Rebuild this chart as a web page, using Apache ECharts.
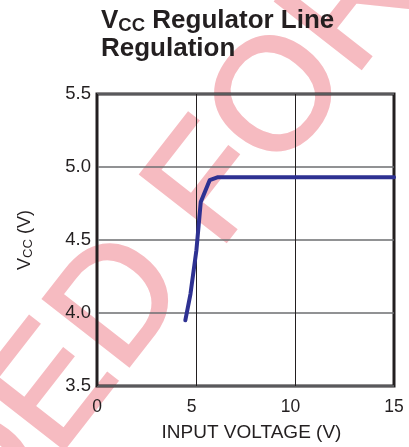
<!DOCTYPE html>
<html>
<head>
<meta charset="utf-8">
<script src="https://cdn.jsdelivr.net/npm/echarts@6/dist/echarts.min.js"></script>
<style>
  html, body { margin: 0; padding: 0; background: #ffffff; }
  #chart { width: 409px; height: 447px; }
</style>
</head>
<body>
<div id="chart"></div>
<script>
// ---- data ----
var inputVoltage = [4.46, 4.72, 5.02, 5.24, 5.69, 6.11, 15];
var vccValues    = [3.95, 4.13, 4.43, 4.76, 4.91, 4.93, 4.93];
var xTickLabels  = ['0', '5', '10', '15'];
var yTickLabels  = ['3.5', '4.0', '4.5', '5.0', '5.5'];
var titleLine1   = ['V', 'CC', ' Regulator Line'];
var titleLine2   = 'Regulation';
var xAxisName    = 'INPUT VOLTAGE (V)';
var yAxisName    = ['V', 'CC', ' (V)'];
var watermark    = ['NOT RECOMMENDED', 'FOR NEW DESIGNS'];

var FONT = 'Liberation Sans, Arial, Helvetica, sans-serif';
var INK = '#231F20';

// watermark geometry (decoration)
var th = 52 * Math.PI / 180;
var em = 158;
var b = [Math.cos(th), -Math.sin(th)];
var u = [-Math.sin(th), -Math.cos(th)];
var O1 = [128, 381];
var endD = [O1[0] + 0.722 * em * b[0], O1[1] + 0.722 * em * b[1]];
var P1 = [endD[0] + 0.33 * em * u[0], endD[1] + 0.33 * em * u[1]];
var P2 = [P1[0] + 0.278 * em * b[0], P1[1] + 0.278 * em * b[1]];

function wmText(txt, p, align) {
  return {
    type: 'text', x: p[0], y: p[1], rotation: th, z: -10, silent: true,
    style: {
      text: txt, fontSize: em, fontFamily: FONT, fontWeight: 'normal',
      fill: '#F6BBC1', stroke: '#F6BBC1', lineWidth: 3,
      align: align, textAlign: align,
      verticalAlign: 'middle', textVerticalAlign: 'middle'
    }
  };
}

var chart = echarts.init(document.getElementById('chart'), null, { renderer: 'canvas' });
var option = {
  animation: false,
  backgroundColor: '#ffffff',
  graphic: {
    elements: [ wmText(watermark[0], P1, 'right'), wmText(watermark[1], P2, 'left') ]
  },
  title: {
    left: 101, top: 7, padding: 0,
    text: '{v|' + titleLine1[0] + '}{s|' + titleLine1[1] + '}{v|' + titleLine1[2] + '}\n{v|' + titleLine2 + '}',
    textStyle: {
      rich: {
        v: { fontSize: 26, fontWeight: 'bold', fontFamily: FONT, color: INK, lineHeight: 28 },
        s: { fontSize: 18.5, fontWeight: 'bold', fontFamily: FONT, color: INK, lineHeight: 16, verticalAlign: 'bottom' }
      }
    }
  },
  grid: {
    left: 97, right: 15, top: 94, bottom: 56,
    show: true, borderColor: INK, borderWidth: 3, backgroundColor: 'transparent'
  },
  xAxis: {
    type: 'value', min: 0, max: 15, interval: 5,
    axisLine: { show: false }, axisTick: { show: false },
    splitLine: { show: true, lineStyle: { color: INK, width: 1 } },
    axisLabel: {
      margin: 12, fontSize: 17.5, fontFamily: FONT, color: INK,
      formatter: function (v) {
        var i = Math.round(v / 5);
        var t = xTickLabels[i];
        if (i === 1 || i === 2) return '{a|' + t + '}';
        return t;
      },
      rich: { a: { fontSize: 17.5, fontFamily: FONT, color: INK, padding: [0, 9, 0, 0] } }
    },
    name: xAxisName, nameLocation: 'middle', nameGap: 37,
    nameTextStyle: { fontSize: 19, fontFamily: FONT, color: INK, padding: [0, 0, 0, 12] }
  },
  yAxis: {
    type: 'value', min: 3.5, max: 5.5, interval: 0.5,
    axisLine: { show: false }, axisTick: { show: false },
    splitLine: { show: true, lineStyle: { color: '#6D6E71', width: 1.7 } },
    axisLabel: {
      margin: 6, fontSize: 18.5, fontFamily: FONT, color: INK,
      formatter: function (v) { return yTickLabels[Math.round((v - 3.5) / 0.5)]; }
    },
    name: '{v|' + yAxisName[0] + '}{s|' + yAxisName[1] + '}{v|' + yAxisName[2] + '}',
    nameLocation: 'middle', nameRotate: 90, nameGap: 62,
    nameTextStyle: {
      rich: {
        v: { fontSize: 18, fontFamily: FONT, color: INK, lineHeight: 20 },
        s: { fontSize: 13, fontFamily: FONT, color: INK, lineHeight: 14, verticalAlign: 'bottom' }
      }
    }
  },
  series: [{
    type: 'line',
    data: inputVoltage.map(function (x, i) { return [x, vccValues[i]]; }),
    showSymbol: false, symbol: 'none', smooth: false,
    lineStyle: { color: '#2E3192', width: 4, cap: 'round', join: 'round' },
    z: 5
  }]
};
chart.setOption(option);
</script>
</body>
</html>
